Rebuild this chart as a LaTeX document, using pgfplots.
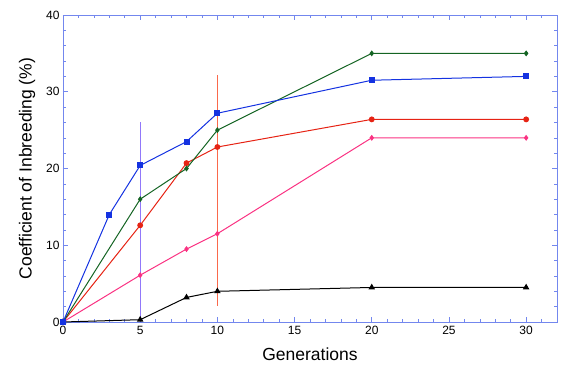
\documentclass[border=0pt]{standalone}
\usepackage{fontspec}
\setmainfont{Liberation Sans}
\usepackage{pgfplots}
\pgfplotsset{compat=1.18}
\definecolor{axblue}{RGB}{115,135,238}
\definecolor{sblue}{RGB}{20,50,225}
\definecolor{sgreen}{RGB}{20,100,35}
\definecolor{sred}{RGB}{230,35,20}
\definecolor{spink}{RGB}{250,50,130}
\definecolor{vlpurple}{RGB}{145,120,250}
\definecolor{vlorange}{RGB}{250,105,75}
\begin{document}
\begin{tikzpicture}
% vertical range lines, drawn first so that the series lie over them
\begin{axis}[
  scale only axis,
  width=494pt, height=307pt,
  xmin=0, xmax=32, ymin=0, ymax=40,
  hide axis,
]
\addplot[vlpurple, line width=1pt] coordinates {(5,0) (5,26)};
\addplot[vlorange, line width=1pt] coordinates {(10,2.1) (10,32.2)};
\end{axis}
\begin{axis}[
  scale only axis,
  width=494pt, height=307pt,
  xmin=0, xmax=32, ymin=0, ymax=40,
  xtick={0,5,...,30}, ytick={0,10,...,40},
  minor xtick={1,2,...,32}, minor ytick={2,4,...,40},
  tick align=inside,
  major tick length=5pt, minor tick length=3pt,
  axis line style={axblue, line width=0.8pt},
  tick style={axblue, line width=0.6pt},
  tick label style={font=\fontsize{12}{14}\selectfont},
  /pgf/number format/assume math mode=true,
  xticklabel style={yshift=-1pt},
  xlabel={Generations},
  ylabel={Coefficient of Inbreeding (\%)},
  label style={font=\fontsize{17.5}{20}\selectfont},
  xlabel style={yshift=-6pt},
  ylabel style={yshift=4pt},
  clip=false,
]
\addplot[black, line width=1pt, mark=triangle*, mark size=2.8pt] coordinates {(0,0) (5,0.3) (8,3.2) (10,4.0) (20,4.5) (30,4.5)};
\addplot[spink, line width=1pt, mark=diamond*, mark size=2.2pt] coordinates {(0,0) (5,6.1) (8,9.5) (10,11.5) (20,24) (30,24)};
\addplot[sred, line width=1pt, mark=*, mark size=2.4pt] coordinates {(0,0) (5,12.6) (8,20.7) (10,22.8) (20,26.4) (30,26.4)};
\addplot[sgreen, line width=1pt, mark=diamond*, mark size=2.2pt] coordinates {(0,0) (5,16) (8,20) (10,25) (20,35) (30,35)};
\addplot[sblue, line width=1pt, mark=square*, mark size=2.5pt] coordinates {(0,0) (3,14) (5,20.4) (8,23.5) (10,27.2) (20,31.5) (30,32)};
\end{axis}
\pgfresetboundingbox
\path[use as bounding box] ([shift={(-63pt,-47pt)}]current axis.south west) rectangle ([shift={(7pt,15pt)}]current axis.north east);
\end{tikzpicture}
\end{document}
